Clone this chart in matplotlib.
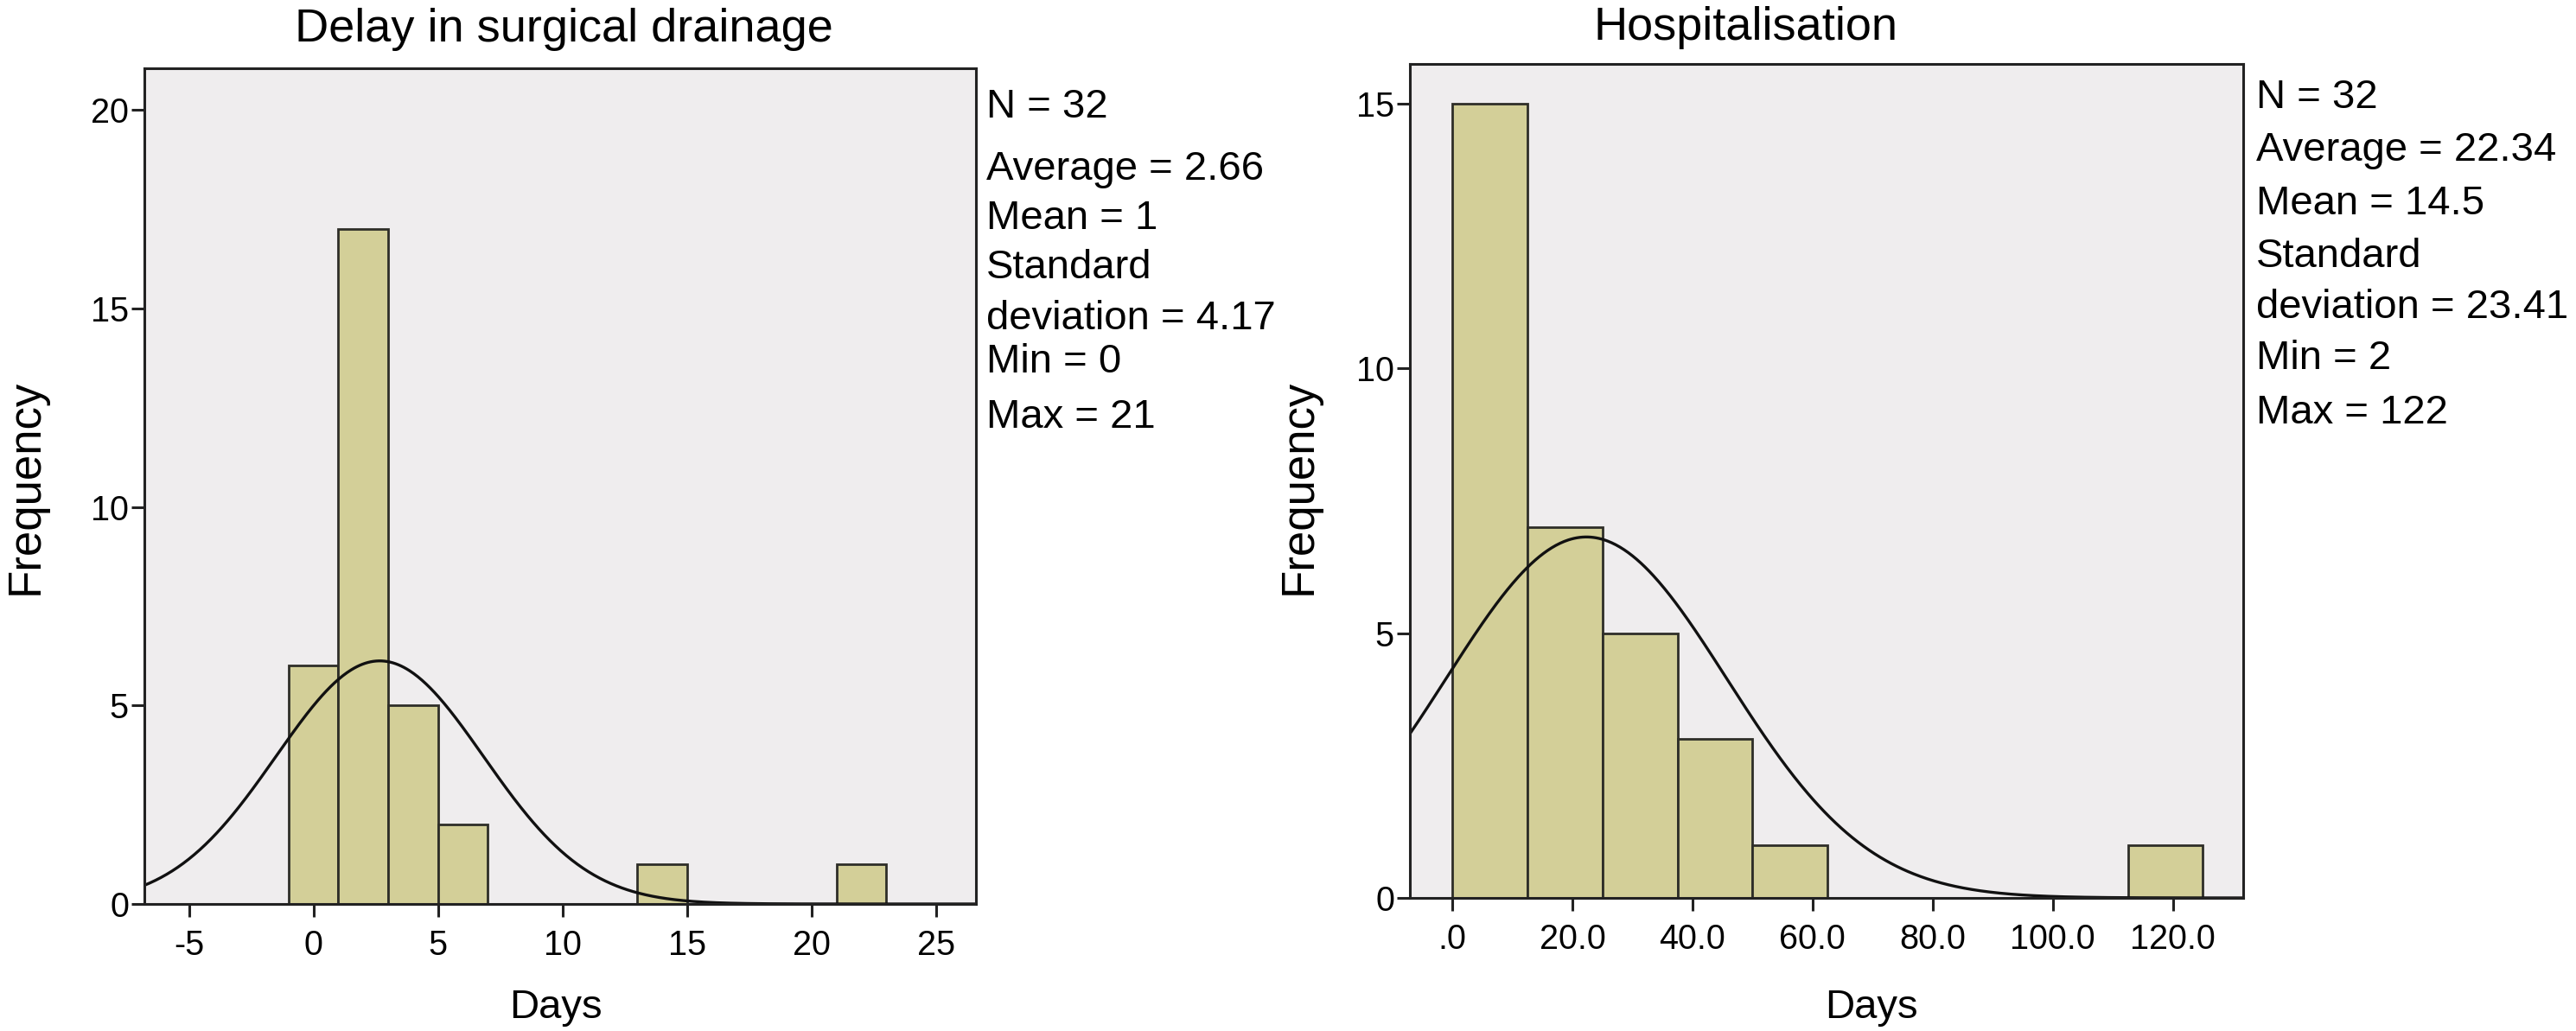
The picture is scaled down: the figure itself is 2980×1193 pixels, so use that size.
import numpy as np
import matplotlib
matplotlib.use("Agg")
import matplotlib.pyplot as plt

plt.rcParams['font.family'] = ['Liberation Sans', 'DejaVu Sans']

# ---------------- data ----------------
delay_edges = [-1, 1, 3, 5, 7, 9, 11, 13, 15, 17, 19, 21, 23]
delay_counts = [6, 17, 5, 2, 0, 0, 0, 1, 0, 0, 0, 1]
delay_stats = dict(n=32, mean=2.66, sd=4.17)
delay_text = ["N = 32", "Average = 2.66", "Mean = 1", "Standard",
              "deviation = 4.17", "Min = 0", "Max = 21"]
delay_xticks = [-5, 0, 5, 10, 15, 20, 25]
delay_xticklabels = ["-5", "0", "5", "10", "15", "20", "25"]
delay_yticks = [0, 5, 10, 15, 20]

hosp_edges = [0, 12.5, 25, 37.5, 50, 62.5, 75, 87.5, 100, 112.5, 125]
hosp_counts = [15, 7, 5, 3, 1, 0, 0, 0, 0, 1]
hosp_stats = dict(n=32, mean=22.34, sd=23.41)
hosp_text = ["N = 32", "Average = 22.34", "Mean = 14.5", "Standard",
             "deviation = 23.41", "Min = 2", "Max = 122"]
hosp_xticks = [0, 20, 40, 60, 80, 100, 120]
hosp_xticklabels = [".0", "20.0", "40.0", "60.0", "80.0", "100.0", "120.0"]
hosp_yticks = [0, 5, 10, 15]

# ---------------- style ----------------
W, H = 2980, 1193
BAR = "#d3cf98"
FACE = "#efedee"

fig = plt.figure(figsize=(W / 100, H / 100), dpi=100)


def rect(x0, x1, ytop, ybot):
    return [x0 / W, 1 - ybot / H, (x1 - x0) / W, (ybot - ytop) / H]


def ftext(x, y, s, **kw):
    fig.text(x / W, 1 - y / H, s, **kw)


def panel(r, edges, counts, stats, xlim, ylim, xticks, xticklabels, yticks):
    ax = fig.add_axes(r)
    ax.set_facecolor(FACE)
    edges = np.asarray(edges, float)
    counts = np.asarray(counts, float)
    widths = np.diff(edges)
    mask = counts > 0
    ax.bar(edges[:-1][mask], counts[mask], width=widths[mask], align='edge',
           color=BAR, edgecolor="#2e2e28", linewidth=2.0, zorder=2)
    bw = widths[0]
    xs = np.linspace(xlim[0], xlim[1], 600)
    ys = stats['n'] * bw / (stats['sd'] * np.sqrt(2 * np.pi)) * \
        np.exp(-0.5 * ((xs - stats['mean']) / stats['sd']) ** 2)
    ax.plot(xs, ys, color="#111111", linewidth=2.4, zorder=3)
    ax.set_xlim(*xlim)
    ax.set_ylim(*ylim)
    ax.set_xticks(xticks)
    ax.set_xticklabels(xticklabels)
    ax.set_yticks(yticks)
    for s in ax.spines.values():
        s.set_linewidth(2.2)
        s.set_color("#222222")
        s.set_zorder(4)
    ax.tick_params(axis='both', direction='out', length=11, width=2.2,
                   color="#222222", labelsize=28.5)
    ax.tick_params(axis='x', pad=10)
    ax.tick_params(axis='y', pad=2)
    return ax


ax1 = panel(rect(167, 1129, 79, 1046), delay_edges, delay_counts, delay_stats,
            (-6.79, 26.6), (0, 21.05), delay_xticks, delay_xticklabels,
            delay_yticks)
ax2 = panel(rect(1631, 2595, 74, 1039), hosp_edges, hosp_counts, hosp_stats,
            (-7.05, 131.7), (0, 15.75), hosp_xticks, hosp_xticklabels,
            hosp_yticks)

# titles
ftext(652, 34, "Delay in surgical drainage", fontsize=39, ha='center', va='center')
ftext(2020, 32, "Hospitalisation", fontsize=39, ha='center', va='center')

# axis labels
ftext(643, 1166, "Days", fontsize=34, ha='center', va='center')
ftext(2165, 1166, "Days", fontsize=34, ha='center', va='center')
ftext(30, 563, "Frequency", fontsize=38, ha='center', va='center', rotation=90)
ftext(1503, 563, "Frequency", fontsize=38, ha='center', va='center', rotation=90)

# stats text
left_y = [124, 196, 253, 310, 369, 419, 483]
right_y = [113, 174, 236, 297, 356, 415, 478]
for s, y in zip(delay_text, left_y):
    ftext(1141, y, s, fontsize=34, ha='left', va='center')
for s, y in zip(hosp_text, right_y):
    ftext(2610, y, s, fontsize=34, ha='left', va='center')

fig.savefig("out.png", dpi=100, facecolor="white")
